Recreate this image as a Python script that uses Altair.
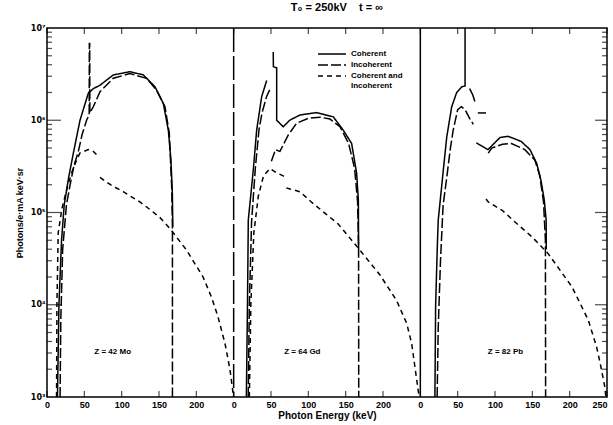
import altair as alt
import pandas as pd

# ---------------- data ----------------
panel_labels = ["Z = 42 Mo", "Z = 64 Gd", "Z = 82 Pb"]
series_names = ["Coherent", "Incoherent", "Coherent and Incoherent"]
panel_span_kev = 250

# None separates pieces of one curve that are drawn apart
mo_coh_kev = [14, 16, 19.5, 23, 29, 35.3, 44.2, 55.3, 62, 71, 88.8, 111.2, 129, 144.6, 155.8, 162.5, 166, 167.9, 168.5]
mo_coh_val = [1e3, 1e4, 5e4, 1.2e5, 2.4e5, 4.4e5, 1.0e6, 1.96e6, 2.2e6, 2.4e6, 3.1e6, 3.36e6, 3.1e6, 2.31e6, 1.52e6, 7.8e5, 3.7e5, 1.6e5, 7e4]

mo_inc_kev = [17.5, 18.5, 21, 26, 31, 36, 42, 47, 53, 56.5, 56.7, 57.2, 57.4, 62, 71, 88.8, 111, 133.5, 147, 158, 163.8, 167, 168, 168]
mo_inc_val = [1e3, 7e3, 4e4, 1.2e5, 2e5, 3.2e5, 4.6e5, 7e5, 1e6, 1.15e6, 6.8e6, 6.8e6, 1.2e6, 1.4e6, 2.04e6, 2.85e6, 3.2e6, 2.85e6, 2.1e6, 1.4e6, 7.2e5, 1.9e5, 7e4, 1e3]

mo_both_kev = [12.8, 13.3, 15, 20, 28, 35, 39.8, 44, 55.3, 62, 69.5, None, 71, 85, 102, 124.5, 137.7, 151.3, 164.7, 187, 209, 220.5, 229, 238.4, 245, 248.6, 249.5]
mo_both_val = [1e3, 1e4, 6e4, 1.1e5, 2e5, 3e5, 3.7e5, 4.4e5, 4.8e5, 4.6e5, 4.0e5, None, 2.4e5, 2.0e5, 1.68e5, 1.3e5, 1.08e5, 8.8e4, 6.7e4, 3.9e4, 2.0e4, 1.2e4, 7.4e3, 3.8e3, 2e3, 1.2e3, 1e3]

gd_coh_kev = [17, 18.5, 19.6, 26.3, 30.8, 37.5, 44.2, None, 53, 53.2, 57.6, 57.6, 66.4, 75, 88.8, 104.4, 111, 133.4, 146.8, 158, 164.7, 167, 167.3]
gd_coh_val = [1e3, 1e4, 8.3e4, 2.9e5, 7.8e5, 1.8e6, 2.7e6, None, 5.5e6, 3.8e6, 3.7e6, 1e6, 8.5e5, 1.0e6, 1.14e6, 1.19e6, 1.21e6, 1.09e6, 7.8e5, 5.6e5, 2.66e5, 1.36e5, 4.1e4]

gd_inc_kev = [19.5, 21, 24, 29, 34, 38, 44, 49, None, 50.5, 56, 62, 73, 84.4, 100, 115.6, 129, 142.4, 154, 162, 166, 167.3, 167.5]
gd_inc_val = [1e3, 1e4, 8e4, 3e5, 8e5, 1.2e6, 1.8e6, 2.2e6, None, 3.6e5, 4.8e5, 4.6e5, 6.9e5, 9.3e5, 1.05e6, 1.08e6, 1.03e6, 8.5e5, 5.6e5, 3e5, 1.3e5, 4e4, 1e3]

gd_both_kev = [21, 23, 27, 33, 40, 48.6, 57, 66.4, 69.5, None, 70.5, 75.4, 88.8, 104, 124.5, 140, 167, 196, 218, 231.7, 238.4, 242.8, 247, 248.5]
gd_both_val = [1e3, 1e4, 6e4, 1.5e5, 2.5e5, 3.0e5, 2.7e5, 2.5e5, 2.4e5, None, 1.85e5, 1.8e5, 1.68e5, 1.3e5, 9.5e4, 7.5e4, 4.1e4, 2.1e4, 1.12e4, 6.3e3, 3.8e3, 2.1e3, 1.2e3, 1e3]

pb_coh_kev = [19.5, 20.5, 23, 24, 30.8, 35.4, 42, 48.7, 55.4, 59.9, 59.9, None, 66, 70, 73, None, 75, 90.6, 106.7, 117.6, 135, 146.9, 155.9, 161.7, 166, 168.5, 168.7]
pb_coh_val = [1e3, 1e4, 5e4, 8.3e4, 2.9e5, 6.6e5, 1.4e6, 2.0e6, 2.3e6, 2.35e6, 1.5e7, None, 2.2e6, 1.9e6, 1.6e6, None, 5.7e5, 4.8e5, 6.5e5, 6.7e5, 5.9e5, 4.8e5, 3.4e5, 2.2e5, 1.36e5, 8.3e4, 4e4]

pb_inc_kev = [22.5, 24, 27, 30.5, 35.4, 40, 44, 50, 55, 60, 66, 71, None, 77, 88, None, 91, 95.6, 110, 122, 140, 153.4, 160, 165, 167.5, 167.8]
pb_inc_val = [1e3, 5.7e3, 3e4, 1.2e5, 2.4e5, 4.8e5, 7.8e5, 1.3e6, 1.4e6, 1.3e6, 1.05e6, 9e5, None, 1.2e6, 1.2e6, None, 4.4e5, 5e5, 5.5e5, 5.6e5, 4.8e5, 3.7e5, 2.5e5, 1.3e5, 5e4, 1e3]

pb_both_kev = [88, 91, 110, 126, 150, 171, 203, 225, 236, 241, 247, 248.5]
pb_both_val = [1.4e5, 1.3e5, 1.05e5, 8e4, 5.4e4, 3.6e4, 1.57e4, 6.8e3, 3.5e3, 2.3e3, 1.3e3, 1e3]

label_kev = [88, 92, 114]
label_val = [3.1e3, 3.1e3, 3.1e3]

x_tick_kev = [0, 50, 100, 150, 200]
y_decades = [1e3, 1e4, 1e5, 1e6, 1e7]
y_minor_factors = [2, 3, 4, 5, 6, 7, 8, 9]

# ---------------- tables ----------------
curves = [
    (0, "Coherent", mo_coh_kev, mo_coh_val),
    (0, "Incoherent", mo_inc_kev, mo_inc_val),
    (0, "Coherent and Incoherent", mo_both_kev, mo_both_val),
    (1, "Coherent", gd_coh_kev, gd_coh_val),
    (1, "Incoherent", gd_inc_kev, gd_inc_val),
    (1, "Coherent and Incoherent", gd_both_kev, gd_both_val),
    (2, "Coherent", pb_coh_kev, pb_coh_val),
    (2, "Incoherent", pb_inc_kev, pb_inc_val),
    (2, "Coherent and Incoherent", pb_both_kev, pb_both_val),
]
rows = []
for p, s, ks, vs in curves:
    seg = 0
    for i, (k, v) in enumerate(zip(ks, vs)):
        if k is None:
            seg += 1
            continue
        rows.append({"pos": k + p * panel_span_kev, "value": v, "series": s,
                     "key": f"{p}-{s}-{seg}", "idx": i})
df = pd.DataFrame(rows)

n_panels = len(panel_labels)
x_max = n_panels * panel_span_kev
x_ticks = [k + p * panel_span_kev for p in range(n_panels) for k in x_tick_kev] + [x_max]

sep1_df = pd.DataFrame({"pos": [panel_span_kev]})
sep2_df = pd.DataFrame({"pos": [2 * panel_span_kev]})
bottom_ticks = pd.DataFrame({"pos": x_ticks, "value": 1e3})
top_ticks = pd.DataFrame({"pos": x_ticks, "value": 1e7})
minor_vals = [f * d for d in y_decades[:-1] for f in y_minor_factors]
left_minor = pd.DataFrame({"pos": 0, "value": minor_vals})
right_minor = pd.DataFrame({"pos": x_max, "value": minor_vals})
left_major = pd.DataFrame({"pos": 0, "value": y_decades[1:-1]})
right_major = pd.DataFrame({"pos": x_max, "value": y_decades[1:-1]})
label_df = pd.DataFrame({"pos": [k + i * panel_span_kev for i, k in enumerate(label_kev)],
                         "value": label_val, "text": panel_labels})

FONT = "Liberation Sans"
x_scale = alt.Scale(domain=[0, x_max], nice=False, zero=False)
y_scale = alt.Scale(type="log", domain=[1e3, 1e7], nice=False)

x_axis = alt.Axis(values=x_ticks, ticks=False, domain=False, grid=False,
                  labelExpr=f"datum.value == {x_max} ? '{panel_span_kev}' : format(datum.value % {panel_span_kev}, 'd')",
                  labelAlign={"condition": {"test": f"datum.value == {x_max}", "value": "right"}, "value": "center"},
                  labelFont=FONT, labelFontSize=9, labelFontWeight="bold", labelPadding=3,
                  labelOverlap=False, labelBound=False, labelFlush=False,
                  title="Photon Energy (keV)", titleFont=FONT, titleFontSize=10,
                  titleFontWeight="bold", titlePadding=1)
y_axis = alt.Axis(values=y_decades, ticks=False, domain=False, grid=False,
                  labelExpr="datum.value > 5e6 ? '10⁷' : datum.value > 5e5 ? '10⁶' : datum.value > 5e4 ? '10⁵' : datum.value > 5e3 ? '10⁴' : '10³'",
                  labelFont="DejaVu Sans", labelFontSize=8, labelFontWeight="bold", labelPadding=2,
                  labelOverlap=False, labelBound=False, labelFlush=False,
                  title="Photons/e·mA  keV·sr", titleFont=FONT, titleFontSize=9,
                  titleFontWeight="bold", titlePadding=6)

X = lambda: alt.X("pos:Q", scale=x_scale, axis=x_axis)
Y = lambda: alt.Y("value:Q", scale=y_scale, axis=y_axis)

lines = alt.Chart(df).mark_line(clip=True, color="black", strokeWidth=1.5).encode(
    x=X(), y=Y(),
    strokeDash=alt.StrokeDash(
        "series:N",
        scale=alt.Scale(domain=series_names, range=[[1, 0], [10, 3], [5, 4]]),
        legend=alt.Legend(
            orient="none", legendX=279, legendY=20, title=None, padding=0,
            symbolType="M-2.8,0H2.8", symbolSize=100, symbolStrokeWidth=1.5,
            symbolStrokeColor="black", symbolFillColor="transparent",
            labelFont=FONT, labelFontSize=8, labelFontWeight="bold",
            rowPadding=1, labelOffset=13,
            labelExpr="datum.label == 'Coherent and Incoherent' ? ['Coherent and', 'Incoherent'] : datum.label",
        ),
    ),
    detail="key:N",
    order="idx:Q",
)

sep1 = alt.Chart(sep1_df).mark_rule(color="black", strokeWidth=1.5, strokeDash=[24, 4]).encode(x=X())
sep2 = alt.Chart(sep2_df).mark_rule(color="black", strokeWidth=1.5).encode(x=X())

def tick_layer(data, orient, size, xoff=0, yoff=0):
    return alt.Chart(data).mark_tick(orient=orient, size=size, thickness=1.2, color="black",
                                     xOffset=xoff, yOffset=yoff).encode(x=X(), y=Y())

ticks = [
    tick_layer(bottom_ticks, "vertical", 6, yoff=-3),
    tick_layer(top_ticks, "vertical", 6, yoff=3),
    tick_layer(left_minor, "horizontal", 5, xoff=2.5),
    tick_layer(right_minor, "horizontal", 5, xoff=-2.5),
    tick_layer(left_major, "horizontal", 14, xoff=7),
    tick_layer(right_major, "horizontal", 12, xoff=-6),
]

labels = alt.Chart(label_df).mark_text(font=FONT, fontSize=8, fontWeight="bold", color="black").encode(
    x=X(), y=Y(), text="text:N",
)

chart = alt.layer(lines, sep1, sep2, *ticks, labels).properties(
    width=560, height=369,
    autosize=alt.AutoSizeParams(type="none"),
    padding={"left": 47, "top": 28, "right": 6, "bottom": 28},
    title=alt.Title("T₀ = 250kV\u00a0\u00a0\u00a0\u00a0t = ∞", font=FONT, fontSize=11, fontWeight="bold",
                    anchor="middle", offset=11, dx=10),
    background="white",
).configure_view(stroke="black", strokeWidth=1.5)

chart.save("out.html", embed_options={"renderer": "svg", "actions": False})
